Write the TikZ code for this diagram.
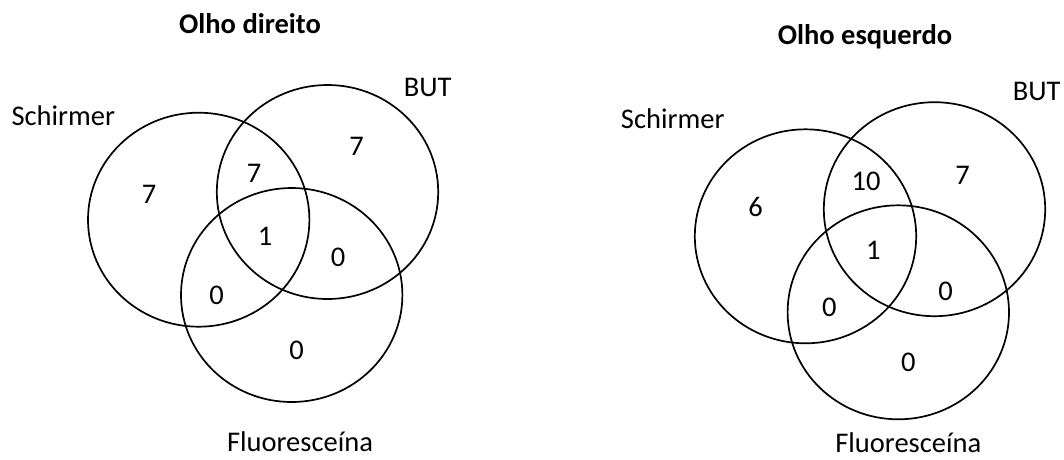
\documentclass[tikz,border=0pt]{standalone}
\usepackage{fontspec}
\setmainfont{Carlito}
\usetikzlibrary{shapes.geometric}
\tikzset{
  venn/.style={draw=black, ellipse, line width=1.7pt, minimum width=221.4pt, minimum height=214pt, inner sep=0pt},
  lbl/.style={font=\fontsize{28.5}{34}\selectfont, inner sep=0pt},
  ttl/.style={font=\fontsize{28.5}{34}\selectfont\bfseries, inner sep=0pt},
}
\begin{document}
\begin{tikzpicture}[x=1pt,y=-1pt]
\useasboundingbox (0,0) rectangle (1064,459);
% Left: Olho direito
\node[ttl] (t1) at (250,23.5) {Olho direito};
\node[venn] (s1) at (198.7,219.7) {};
\node[venn] (b1) at (327.5,192) {};
\node[venn] (f1) at (291.7,295) {};
\node[lbl] (ls1) at (63.3,116) {Schirmer};
\node[lbl] (lb1) at (427.7,87.3) {BUT};
\node[lbl] (lf1) at (300,442) {Fluoresceína};
\node[lbl] (n1a) at (149,194) {7};
\node[lbl] (n1b) at (254,173) {7};
\node[lbl] (n1c) at (356.7,146.7) {7};
\node[lbl] (n1d) at (265,236) {1};
\node[lbl] (n1e) at (338,257) {0};
\node[lbl] (n1f) at (216.7,295) {0};
\node[lbl] (n1g) at (296.7,350) {0};
% Right: Olho esquerdo
\node[ttl] (t2) at (865,36.7) {Olho esquerdo};
\node[venn] (s2) at (805.5,236.3) {};
\node[venn] (b2) at (934.5,209.2) {};
\node[venn] (f2) at (898.3,312.3) {};
\node[lbl] (ls2) at (672.7,118.3) {Schirmer};
\node[lbl] (lb2) at (1036.7,91.7) {BUT};
\node[lbl] (lf2) at (908.3,443) {Fluoresceína};
\node[lbl] (n2a) at (755.7,207.3) {6};
\node[lbl] (n2b) at (866,181.7) {10};
\node[lbl] (n2c) at (962.7,175) {7};
\node[lbl] (n2d) at (873.3,250.7) {1};
\node[lbl] (n2e) at (945.7,291) {0};
\node[lbl] (n2f) at (829.3,307.3) {0};
\node[lbl] (n2g) at (908.3,362.7) {0};
\end{tikzpicture}
\end{document}
